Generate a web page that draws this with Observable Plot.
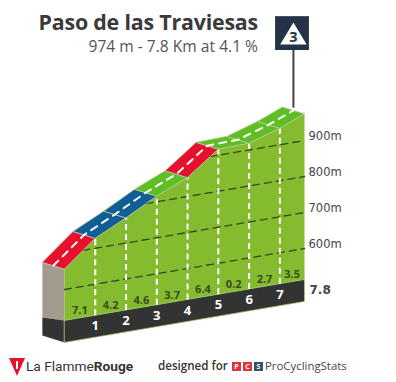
<!DOCTYPE html>
<html><head><meta charset="utf-8">
<script src="https://cdn.jsdelivr.net/npm/d3@7"></script>
<script src="https://cdn.jsdelivr.net/npm/@observablehq/plot@0.6"></script>
<style>
html,body{margin:0;padding:0;background:#fff;width:396px;height:382px;overflow:hidden;font-family:"Open Sans",sans-serif}
#wrap{position:relative;width:396px;height:382px}
#wrap svg.main{position:absolute;left:0;top:0}
.t{position:absolute;white-space:nowrap}
#title{right:138px;top:7px;font:700 21.4px "Open Sans",sans-serif;color:#3a3a3a;letter-spacing:-.2px}
#sub{right:138px;top:35px;font:400 15.6px "Open Sans",sans-serif;color:#555}
#foot1{left:26px;top:358px;font:400 13.7px Roboto,sans-serif;color:#333}
#foot1 b{font-weight:700}
#foot2{left:158px;top:358px;font:600 11.6px "Open Sans",sans-serif;color:#333}
#foot3{left:265px;top:358px;font:400 11.4px "Open Sans",sans-serif;color:#444}
.pcs{position:absolute;top:362px;width:9px;height:9px;font:700 7px "Open Sans",sans-serif;color:#fff;text-align:center;line-height:9px}
</style></head><body>
<div id="wrap">
<div class="t" id="title">Paso de las Traviesas</div>
<div class="t" id="sub">974 m - 7.8 Km at 4.1 %</div>
<svg class="t" style="left:8px;top:357px" width="18" height="20"><path d="M1 1H17L9 19Z" fill="#e8112d"/><path d="M8 4h2v8h-2z" fill="#fff"/></svg>
<div class="t" id="foot1">La Flamme<b>Rouge</b></div>
<div class="t" id="foot2">designed for</div>
<div class="pcs" style="left:232px;background:#e0323c">P</div>
<div class="pcs" style="left:243px;background:#e0323c">C</div>
<div class="pcs" style="left:254px;background:#33506e">S</div>
<div class="t" id="foot3">ProCyclingStats</div>
</div>
<script>
// Values
const kmMarks = [0, 1, 2, 3, 4, 5, 6, 7, 7.8];
const elevations = [657, 728, 770, 816, 853, 917, 919, 946, 974];
const gradients = [7.1, 4.2, 4.6, 3.7, 6.4, 0.2, 2.7, 3.5];
const gradientLabels = ["7.1", "4.2", "4.6", "3.7", "6.4", "0.2", "2.7", "3.5"];
const roadColors = ["#e8112d", "#0f5f94", "#0f5f94", "#5fbe23", "#e8112d", "#5fbe23", "#5fbe23", "#5fbe23"];
const gridElevations = [600, 700, 800, 900];
const gridStartKm = [0, 0.6, 2.65, 4.73];
const gridLabels = ["600m", "700m", "800m", "900m"];
const baseElevation = 514, footElevation = 453, totalKm = 7.8, pinKm = 7.44;

// oblique projection: every km going left sinks the picture by a fixed elevation amount
const sink = 14.6, depthKm = 0.72, depthTop = 19, depthBase = 8, depthFoot = 19;
const V = (km, e) => e - (totalKm - km) * sink;
const poly = pts => pts.map(([km, v]) => ({km, v}));
const profile = kmMarks.map((km, i) => [km, V(km, elevations[i])]);

const face = poly([...profile, [totalKm, V(totalKm, baseElevation)], [0, V(0, baseElevation)]]);
const foot = poly([[0, V(0, baseElevation)], [totalKm, V(totalKm, baseElevation)], [totalKm, V(totalKm, footElevation)], [0, V(0, footElevation)]]);
const footSide = poly([[-depthKm, V(0, baseElevation) + depthBase], [0, V(0, baseElevation)], [0, V(0, footElevation)], [-depthKm, V(0, footElevation) + depthFoot]]);
const wall = poly([[-depthKm, V(0, elevations[0]) + depthTop], [0, V(0, elevations[0])], [0, V(0, baseElevation)], [-depthKm, V(0, baseElevation) + depthBase]]);

const road = (i) => Plot.line(poly([
  profile[i], profile[i + 1],
  [profile[i + 1][0] - depthKm, profile[i + 1][1] + depthTop],
  [profile[i][0] - depthKm, profile[i][1] + depthTop]
]), {x: "km", y: "v", fill: roadColors[i], stroke: "#b9c9a8", strokeWidth: 0.8, curve: "linear-closed"});

const centre = poly(profile.map(([km, v]) => [km - depthKm / 2, v + depthTop / 2]));
const ticks = kmMarks.slice(1, -1).map((km, i) => ({km, a: V(km, baseElevation), b: profile[i + 1][1], label: String(i + 1), mid: V(km, (baseElevation + footElevation) / 2)}));
const grads = gradientLabels.map((label, i) => {
  const km = i === 7 ? 7.4 : kmMarks[i] + 0.5;
  return {km, v: V(km, baseElevation), label};
});
const grid = gridElevations.flatMap((e, i) => [
  {km: gridStartKm[i], v: V(gridStartKm[i], e), e},
  {km: totalKm, v: V(totalKm, e), e}
]);
const gridText = gridElevations.map((e, i) => ({km: totalKm, v: e, label: gridLabels[i]}));

const chart = Plot.plot({
  width: 396, height: 382, margin: 0,
  x: {domain: [-2.08, 10.79], range: [0, 396], axis: null},
  y: {domain: [227.8, 1288.9], range: [382, 0], axis: null},
  style: {background: "transparent", overflow: "visible"},
  marks: [
    Plot.line(wall, {x: "km", y: "v", fill: "#a39b90", curve: "linear-closed"}),
    Plot.line(footSide, {x: "km", y: "v", fill: "#333333", curve: "linear-closed"}),
    Plot.line(face, {x: "km", y: "v", fill: "#85bb2f", curve: "linear-closed"}),
    Plot.line(foot, {x: "km", y: "v", fill: "#333333", stroke: "#a9cf6a", strokeWidth: 0.7, curve: "linear-closed"}),
    Plot.line(grid, {x: "km", y: "v", z: "e", stroke: "#36471f", strokeWidth: 1.3, strokeDasharray: "7 5"}),
    Plot.link(ticks, {x1: "km", x2: "km", y1: "a", y2: "b", stroke: "#fff", strokeWidth: 2, strokeDasharray: "6 4"}),
    ...gradients.map((g, i) => road(i)),
    Plot.line(centre, {x: "km", y: "v", stroke: "#fff", strokeWidth: 2, strokeDasharray: "7 6"}),
    Plot.text(grads, {x: "km", y: "v", text: "label", dy: -7, fill: "#3a4a22", fontSize: 11, fontWeight: 700, fontFamily: "'Open Sans',sans-serif"}),
    Plot.text(ticks, {x: "km", y: "mid", text: "label", fill: "#fff", fontSize: 13, fontWeight: 700, fontFamily: "'Open Sans',sans-serif"}),
    Plot.text(gridText, {x: "km", y: "v", text: "label", dx: 4, dy: -4.5, textAnchor: "start", fill: "#444", fontSize: 11.5, fontWeight: 400, fontFamily: "'DejaVu Sans',sans-serif"}),
    Plot.text([{km: totalKm, v: V(totalKm, (baseElevation + footElevation) / 2)}], {x: "km", y: "v", text: () => "7.8", dx: 5, textAnchor: "start", fill: "#444", fontSize: 12, fontWeight: 700, fontFamily: "'DejaVu Sans',sans-serif"}),
    // summit sign
    Plot.ruleX([pinKm], {y1: 990, y2: 1150, stroke: "#444", strokeWidth: 2}),
    Plot.rect([{}], {x1: () => 6.86, x2: () => 7.96, y1: () => 1150, y2: () => 1244, fill: "#243347"}),
    Plot.line(poly([[pinKm, 1228], [pinKm + 0.43, 1167], [pinKm - 0.43, 1167]]), {x: "km", y: "v", fill: "#fff", curve: "linear-closed"}),
    Plot.text([{km: pinKm, v: 1187}], {x: "km", y: "v", text: () => "3", fill: "#243347", fontSize: 14.5, fontWeight: 700, fontFamily: "'Open Sans',sans-serif"})
  ]
});
chart.classList.add("main");
document.getElementById("wrap").prepend(chart);
</script>
</body></html>
